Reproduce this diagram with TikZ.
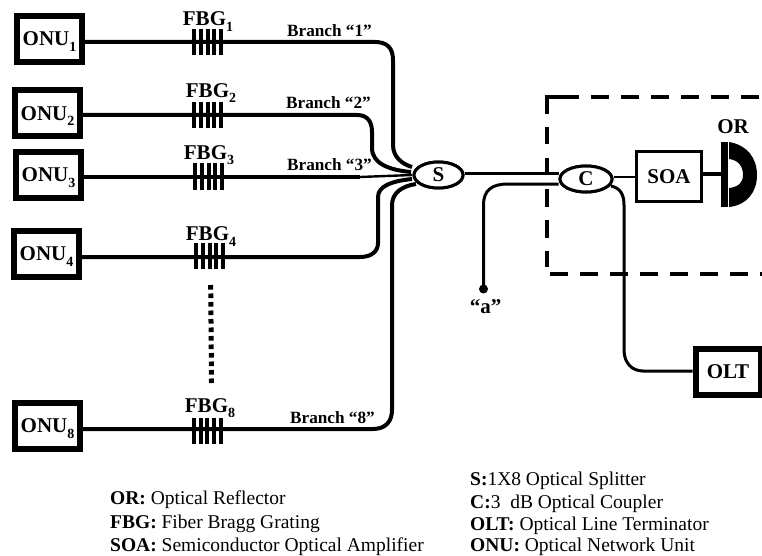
\documentclass[tikz,border=0pt]{standalone}
\usepackage{fontspec}
\setmainfont{Liberation Serif}
\usetikzlibrary{calc,shapes.geometric}
\newcommand{\sbb}[1]{\smash{\raisebox{-5.5pt}{\fontsize{14}{14}\selectfont #1}}}
\tikzset{
  x=1pt,y=-1pt,
  fiber/.style={line width=4pt,line join=round},
  midfiber/.style={line width=3pt},
  thinfiber/.style={line width=2.4pt},
  onubox/.style={draw,line width=6pt,fill=white,minimum width=65pt,minimum height=46pt,inner sep=0pt,font=\fontsize{21}{21}\selectfont\bfseries},
  plainbox/.style={draw,line width=3.2pt,fill=white,inner sep=0pt,minimum width=65pt,minimum height=50pt,font=\fontsize{21}{21}\selectfont\bfseries},
  coupler/.style={draw,ellipse,line width=3pt,fill=white,inner sep=0pt,font=\fontsize{21}{21}\selectfont\bfseries},
  glabel/.style={font=\fontsize{21}{21}\selectfont\bfseries,inner sep=0pt},
  blabel/.style={font=\fontsize{17.2}{17.2}\selectfont\bfseries,inner sep=0pt,anchor=base west},
  legend/.style={font=\fontsize{19.5}{19.5}\selectfont,inner sep=0pt,anchor=base west},
  grating/.style={line width=4pt},
  dashline/.style={line width=4.7pt},
}
\newcommand{\fbg}[3]{%
  \foreach \dx in {0,6.6,13.3,20,26.7}{\draw[grating] ($(#1+\dx,#2)$) -- ($(#1+\dx,#3)$);}}
\begin{document}
\begin{tikzpicture}
\useasboundingbox (0,0) rectangle (762,556);
% dashed box
\coordinate (dtr) at (762,97); \coordinate (dtl) at (547,97);
\coordinate (dbl) at (547,274); \coordinate (dbr) at (762,274);
\draw[dashline,dash pattern=on 18pt off 12pt] ($(dtl)+(14,0)$) -- (dtr);
\draw[dashline] ($(dtl)+(-2.3,0)$) -- ($(dtl)+(14,0)$);
\draw[dashline] (dtl) -- ($(dtl)+(0,17)$);
\draw[dashline,dash pattern=on 17.5pt off 13.5pt] ($(dtl)+(0,30)$) -- ($(dbl)+(0,-7)$);
\draw[dashline,dash pattern=on 18pt off 12pt] ($(dbl)+(3,0)$) -- (dbr);
% nodes
\node[onubox] (onu1) at (49.5,39) {ONU\sbb{1}};
\node[onubox] (onu2) at (47.5,113.5) {ONU\sbb{2}};
\node[onubox] (onu3) at (48.5,175) {ONU\sbb{3}};
\node[onubox] (onu4) at (46.5,254) {ONU\sbb{4}};
\node[onubox] (onu8) at (47.5,426) {ONU\sbb{8}};
\node[onubox] (olt) at (728,371.5) {OLT};
\node[coupler,minimum width=49pt,minimum height=26pt] (S) at (438.5,175) {S};
\node[coupler,minimum width=52pt,minimum height=26pt] (C) at (586,179) {C};
\node[plainbox] (soa) at (669,176.5) {SOA};
\coordinate (a) at (483.5,289);
\coordinate (s1) at (412,167); \coordinate (s2) at (411,172); \coordinate (s3) at (412,175);
\coordinate (s4) at (412,179); \coordinate (s8) at (416,184);
% fibers
\draw[fiber] (onu1.east |- 0,42) -- (375,42) .. controls (387,42) and (393,48) .. (393,60) -- (393,145) .. controls (393,157) and (402,164) .. (s1);
\draw[fiber] (onu2.east |- 0,115) -- (357,115) .. controls (367,115) and (372,121) .. (372,132) -- (372,148) .. controls (372,163) and (388,170) .. (s2);
\draw[fiber] (onu3.east |- 0,177) -- (360,177);
\draw[thinfiber] (360,177) -- (s3);
\draw[fiber] (onu4.east |- 0,257) -- (360,257) .. controls (372,257) and (378,251) .. (378,243) -- (378,197) .. controls (378,186) and (392,181) .. (s4);
\draw[fiber] (onu8.east |- 0,429) -- (373,429) .. controls (385,429) and (392,422) .. (392,410) -- (392,205) .. controls (392,193) and (402,186) .. (s8);
\draw[midfiber] (S.east |- 0,173.7) -- (C.west |- 0,173.7);
\draw[midfiber] (C.west |- 0,184) -- (508,184) .. controls (492,184) and (483.5,190) .. (483.5,205) -- (a);
\fill (a) circle (4.5);
\draw[thinfiber] (C.east |- 0,177) -- (soa.west |- 0,177);
\draw[fiber] (soa.east |- 0,174) -- (722,174);
\draw[midfiber] (611,186) .. controls (620,188) and (624,194) .. (624,205) -- (624,350) .. controls (624,363) and (632,371) .. (643,371) -- (olt.west |- 0,371);
% couplers above the fibers
\node[coupler,minimum width=49pt,minimum height=26pt] at (S) {S};
\node[coupler,minimum width=52pt,minimum height=26pt] at (C) {C};
% reflector
\draw[line width=7pt] (724.5,142) -- (724.5,207);
\fill (729,142) .. controls (747,145) and (757,158) .. (757,175) .. controls (757,192) and (747,205) .. (729,207) -- (729,188) .. controls (738,187) and (743,183) .. (743,175) .. controls (743,166) and (738,160) .. (729,159) -- cycle;
% gratings
\fbg{194.3}{29}{55}
\fbg{194.3}{102}{128}
\fbg{195.3}{163}{190}
\fbg{196.3}{243}{269}
\fbg{194}{418}{444}
% dots
\draw[line width=5pt,dash pattern=on 4.6pt off 3.9pt] (210.7,285) -- (211.5,383);
% labels
\node[glabel,anchor=base] (f1) at (208,26) {FBG\sbb{1}};
\node[glabel,anchor=base] (f2) at (211,97.3) {FBG\sbb{2}};
\node[glabel,anchor=base] (f3) at (209,159.3) {FBG\sbb{3}};
\node[glabel,anchor=base] (f4) at (211,240.7) {FBG\sbb{4}};
\node[glabel,anchor=base] (f8) at (210,412.3) {FBG\sbb{8}};
\node[blabel] (b1) at (287,37) {Branch “1”};
\node[blabel] (b2) at (286,109) {Branch “2”};
\node[blabel] (b3) at (287,171) {Branch “3”};
\node[blabel] (b8) at (290,423) {Branch “8”};
\node[glabel,anchor=base] (lor) at (733,134) {OR};
\node[glabel,anchor=base] (la) at (485.5,313) {“a”};
% legend
\node[legend] (l1) at (110,504) {\textbf{OR:} Optical Reflector};
\node[legend] (l2) at (110,528) {\textbf{FBG:} Fiber Bragg Grating};
\node[legend] (l3) at (110,551) {\textbf{SOA:} Semiconductor Optical Amplifier};
\node[legend] (r1) at (470,485.5) {\textbf{S:}1X8 Optical Splitter};
\node[legend] (r2) at (470,508) {\textbf{C:}3\ \ dB Optical Coupler};
\node[legend] (r3) at (470,530.5) {\textbf{OLT:} Optical Line Terminator};
\node[legend] (r4) at (470,551.5) {\textbf{ONU:} Optical Network Unit};
\end{tikzpicture}
\end{document}
